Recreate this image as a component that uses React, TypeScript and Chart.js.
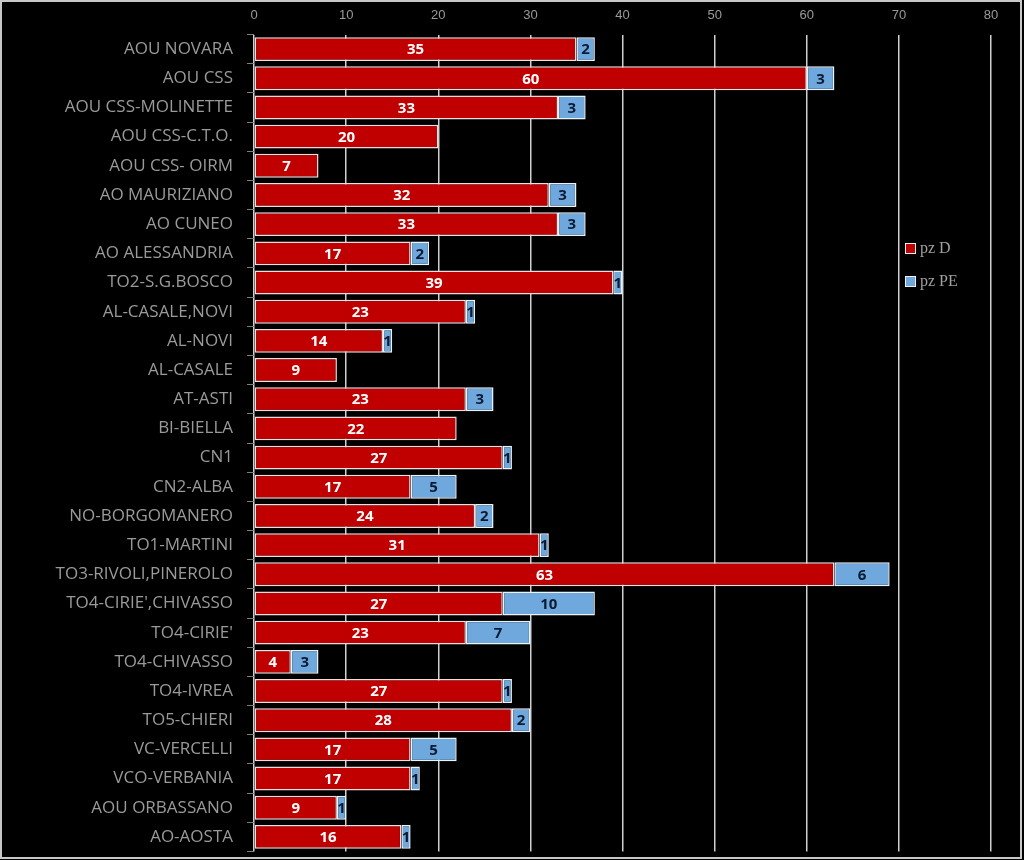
import React, { useEffect, useRef } from "react";
import { Chart, registerables } from "chart.js";

Chart.register(...registerables);

const categories = [
  "AOU NOVARA",
  "AOU CSS",
  "AOU CSS-MOLINETTE",
  "AOU CSS-C.T.O.",
  "AOU CSS- OIRM",
  "AO MAURIZIANO",
  "AO CUNEO",
  "AO ALESSANDRIA",
  "TO2-S.G.BOSCO",
  "AL-CASALE,NOVI",
  "AL-NOVI",
  "AL-CASALE",
  "AT-ASTI",
  "BI-BIELLA",
  "CN1",
  "CN2-ALBA",
  "NO-BORGOMANERO",
  "TO1-MARTINI",
  "TO3-RIVOLI,PINEROLO",
  "TO4-CIRIE',CHIVASSO",
  "TO4-CIRIE'",
  "TO4-CHIVASSO",
  "TO4-IVREA",
  "TO5-CHIERI",
  "VC-VERCELLI",
  "VCO-VERBANIA",
  "AOU ORBASSANO",
  "AO-AOSTA",
];

const pzD = [35, 60, 33, 20, 7, 32, 33, 17, 39, 23, 14, 9, 23, 22, 27, 17, 24, 31, 63, 27, 23, 4, 27, 28, 17, 17, 9, 16];
const pzPE = [2, 3, 3, 0, 0, 3, 3, 2, 1, 1, 1, 0, 3, 0, 1, 5, 2, 1, 6, 10, 7, 3, 1, 2, 5, 1, 1, 1];

const seriesNames = ["pz D", "pz PE"];
const xTickMax = 80;
const xTickStep = 10;

const RED = "#C00000";
const BLUE = "#6FA8DC";

const backgroundPlugin = {
  id: "bgFrame",
  beforeDraw(chart: any) {
    const ctx = chart.ctx;
    ctx.save();
    ctx.fillStyle = "#000000";
    ctx.fillRect(0, 0, chart.width, chart.height);
    ctx.strokeStyle = "#c8c8c8";
    ctx.lineWidth = 2;
    ctx.strokeRect(1, 1, chart.width - 4, chart.height - 3);
    ctx.restore();
  },
};

const valueLabelPlugin = {
  id: "valueLabels",
  afterDatasetsDraw(chart: any) {
    const ctx = chart.ctx;
    ctx.save();
    ctx.font = "bold 15px 'Open Sans', 'Liberation Sans', sans-serif";
    ctx.textAlign = "center";
    ctx.textBaseline = "middle";
    chart.data.datasets.forEach((ds: any, di: number) => {
      const meta = chart.getDatasetMeta(di);
      ctx.fillStyle = di === 0 ? "#ffffff" : "#0b1a33";
      meta.data.forEach((el: any, i: number) => {
        const v = ds.data[i];
        if (!v) return;
        const p = el.getProps(["x", "y", "base"], true);
        ctx.fillText(String(v), (p.x + p.base) / 2, p.y + 1);
      });
    });
    ctx.restore();
  },
};

const legendPlugin = {
  id: "customLegend",
  afterDraw(chart: any) {
    const ctx = chart.ctx;
    const colors = [RED, BLUE];
    const x = 905;
    const ys = [248, 281];
    ctx.save();
    ctx.font = "16px 'Liberation Serif', serif";
    ctx.textBaseline = "middle";
    ctx.textAlign = "left";
    seriesNames.forEach((name, i) => {
      ctx.fillStyle = colors[i];
      ctx.fillRect(x, ys[i] - 5, 11, 11);
      ctx.strokeStyle = "#f0f0f0";
      ctx.lineWidth = 1;
      ctx.strokeRect(x + 0.5, ys[i] - 4.5, 10, 10);
      ctx.fillStyle = "#a0a0a0";
      ctx.fillText(name, x + 15, ys[i] + 1);
    });
    ctx.restore();
  },
};

export default function App() {
  const ref = useRef<HTMLCanvasElement | null>(null);

  useEffect(() => {
    if (!ref.current) return;
    const chart = new Chart(ref.current, {
      type: "bar",
      data: {
        labels: categories,
        datasets: [
          {
            label: seriesNames[0],
            data: pzD,
            backgroundColor: RED,
            borderColor: "#f2dede",
            borderWidth: 1.5,
            borderSkipped: false,
            barPercentage: 0.82,
            categoryPercentage: 1,
          },
          {
            label: seriesNames[1],
            data: pzPE,
            backgroundColor: BLUE,
            borderColor: "#eaf2fa",
            borderWidth: 1.5,
            borderSkipped: false,
            barPercentage: 0.82,
            categoryPercentage: 1,
          },
        ],
      },
      options: {
        indexAxis: "y",
        animation: false,
        responsive: false,
        maintainAspectRatio: false,
        layout: { padding: { left: 0, right: 33, top: 0, bottom: 8.5 } },
        plugins: {
          legend: { display: false },
          tooltip: { enabled: false },
        },
        scales: {
          x: {
            position: "top",
            stacked: true,
            min: 0,
            max: xTickMax,
            ticks: {
              stepSize: xTickStep,
              color: "#9a9a9a",
              font: { family: "'Liberation Sans', sans-serif", size: 13 },
              padding: 11,
            },
            grid: {
              color: "#d0d0d0",
              lineWidth: 1.5,
              drawTicks: false,
            },
            border: { display: false },
            afterFit: (s: any) => {
              s.height = 34.5;
              s.paddingLeft = 0;
              s.paddingRight = 0;
            },
          },
          y: {
            stacked: true,
            ticks: {
              color: "#9a9a9a",
              font: { family: "'Open Sans', sans-serif", size: 17 },
              padding: 14,
              autoSkip: false,
            },
            grid: {
              drawOnChartArea: false,
              drawTicks: true,
              tickLength: 7,
              color: "#808080",
              offset: true,
            },
            border: { display: false },
            afterFit: (s: any) => {
              s.width = 254;
              s.paddingTop = 0;
              s.paddingBottom = 0;
            },
          },
        },
      },
      plugins: [backgroundPlugin, valueLabelPlugin, legendPlugin],
    });
    return () => chart.destroy();
  }, []);

  return (
    <div style={{ position: "absolute", left: 0, top: 0, width: 1024, height: 860, background: "#000" }}>
      <canvas ref={ref} width={1024} height={860} style={{ display: "block", width: 1024, height: 860 }} />
    </div>
  );
}
